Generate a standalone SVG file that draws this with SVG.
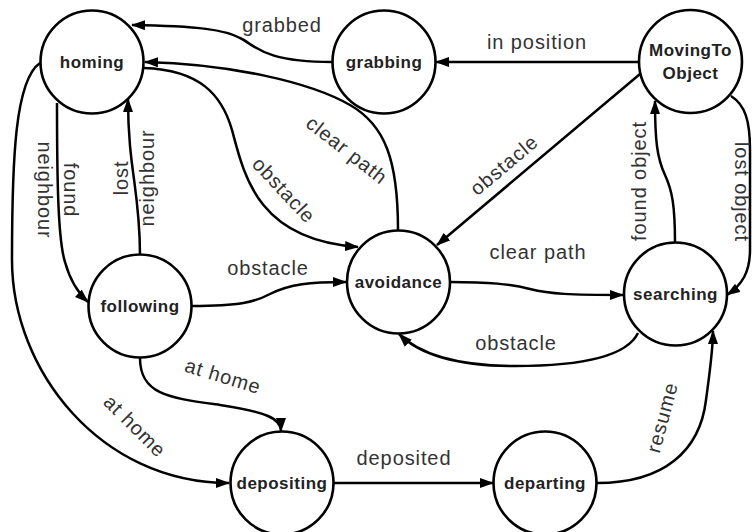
<svg xmlns="http://www.w3.org/2000/svg" width="755" height="532" viewBox="0 0 755 532">
<defs>
<marker id="arr" markerWidth="16" markerHeight="12" refX="13" refY="5" orient="auto" markerUnits="userSpaceOnUse">
<path d="M0,0 L14,5 L0,10 z" fill="#000"/>
</marker>
<style>
.node circle{fill:#fff;stroke:#000;stroke-width:2.6}
.node text{font-family:"Liberation Sans",Arial,sans-serif;font-weight:bold;font-size:17px;letter-spacing:0.5px;fill:#222;text-anchor:middle}
#edges path{fill:none;stroke:#000;stroke-width:2.5;marker-end:url(#arr)}
.lbl{font-family:"Liberation Sans",Arial,sans-serif;font-size:20px;letter-spacing:0.9px;fill:#333;text-anchor:middle}
</style>
</defs>
<rect width="755" height="532" fill="#fff"/>
<g id="edges">
<path d="M332,62 C262,62 255,45 240,38 C225,30 200,26 132,25"/>
<path d="M639,62 L436,62"/>
<path d="M640,74 L437,245"/>
<path d="M398,230 C398,160 385,125 350,105 C310,82 230,64 145,62"/>
<path d="M144,68 C200,70 222,95 232,130 C245,180 260,240 358,247"/>
<path d="M57,103 C57,180 58,240 65,262 C70,280 78,293 88,302"/>
<path d="M140,255 C140,190 128,170 128,99"/>
<path d="M40,63 C15,80 12,160 12,260 C12,370 100,483 229,483"/>
<path d="M140,358 C140,395 170,398 220,405 C265,412 281,418 281,431"/>
<path d="M192,306 C240,306 255,302 270,294 C290,284 310,282 346,282"/>
<path d="M450,282 C490,282 510,284 530,289 C550,294 570,295 623,295"/>
<path d="M638,333 C625,360 570,366 515,366 C460,366 420,355 399,334"/>
<path d="M731,96 C745,105 750,120 750,150 L750,250 C750,272 742,285 727,295"/>
<path d="M675,243 C675,205 672,190 665,175 C657,158 655,140 655,101"/>
<path d="M333,483 L493,483"/>
<path d="M597,483 C665,483 700,450 706,400 C710,370 713,350 713,331"/>
</g>
<g id="labels">
<text class="lbl" x="282" y="32">grabbed</text>
<text class="lbl" x="537" y="49">in position</text>
<text class="lbl" transform="translate(504,165) rotate(-40)" y="7">obstacle</text>
<text class="lbl" transform="translate(347,150) rotate(38)" y="7">clear path</text>
<text class="lbl" transform="translate(284,190) rotate(47)" y="7">obstacle</text>
<text class="lbl" transform="translate(63.5,190) rotate(90)"><tspan x="0" y="0">found</tspan><tspan x="0" y="26">neighbour</tspan></text>
<text class="lbl" transform="translate(128,178) rotate(-90)"><tspan x="0" y="0">lost</tspan><tspan x="0" y="26">neighbour</tspan></text>
<text class="lbl" x="268" y="275">obstacle</text>
<text class="lbl" x="538" y="259">clear path</text>
<text class="lbl" x="516" y="350">obstacle</text>
<text class="lbl" transform="translate(646,181) rotate(-90)">found object</text>
<text class="lbl" transform="translate(735,192) rotate(90)">lost object</text>
<text class="lbl" transform="translate(135,426) rotate(45)" y="7">at home</text>
<text class="lbl" transform="translate(223,376) rotate(17)" y="7">at home</text>
<text class="lbl" x="404" y="465">deposited</text>
<text class="lbl" transform="translate(664,418) rotate(-75)" y="5">resume</text>
</g>
<g id="homing" class="node"><circle cx="92" cy="62" r="51.5"/><text x="92" y="68">homing</text></g>
<g id="grabbing" class="node"><circle cx="384" cy="62" r="51.5"/><text x="384" y="68">grabbing</text></g>
<g id="movingtoobject" class="node"><circle cx="690.5" cy="61.5" r="51.5"/><text x="690.5" y="56">MovingTo</text><text x="690.5" y="79">Object</text></g>
<g id="following" class="node"><circle cx="140" cy="306" r="51.5"/><text x="140" y="312">following</text></g>
<g id="avoidance" class="node"><circle cx="398.5" cy="282" r="51.5"/><text x="398.5" y="288">avoidance</text></g>
<g id="searching" class="node"><circle cx="675.5" cy="294" r="51.5"/><text x="675.5" y="300">searching</text></g>
<g id="depositing" class="node"><circle cx="282" cy="483" r="51.5"/><text x="282" y="489">depositing</text></g>
<g id="departing" class="node"><circle cx="545" cy="483" r="51.5"/><text x="545" y="489">departing</text></g>
</svg>
